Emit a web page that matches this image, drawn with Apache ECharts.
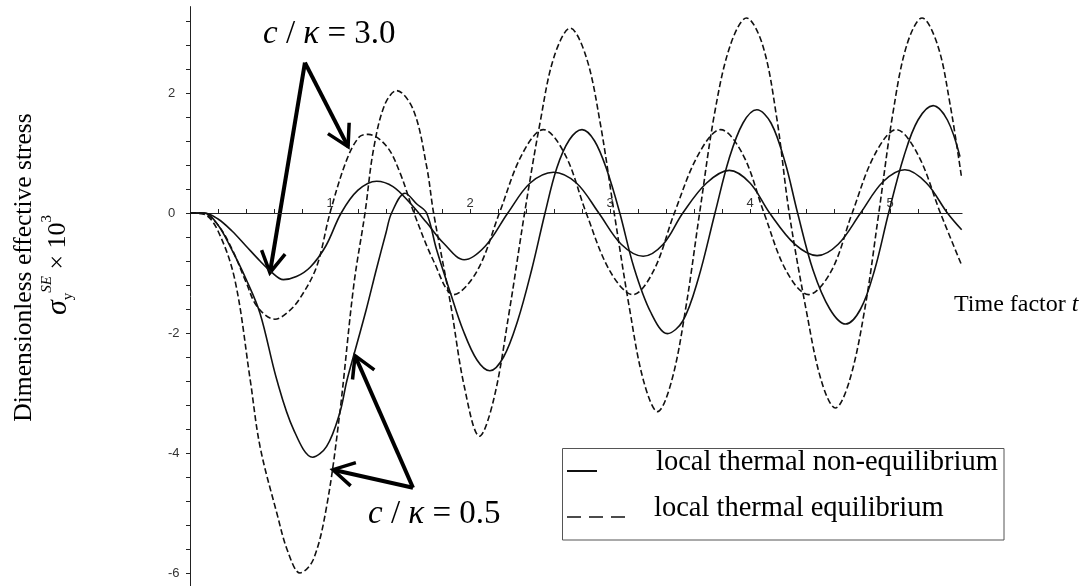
<!DOCTYPE html>
<html>
<head>
<meta charset="utf-8">
<title>Dimensionless effective stress vs time factor</title>
<script src="https://cdn.jsdelivr.net/npm/echarts@6/dist/echarts.min.js"></script>
<style>
  html, body { margin: 0; padding: 0; background: #fff; }
  #chart { width: 1086px; height: 586px; }
</style>
</head>
<body>
<div id="chart"></div>
<script>
// [time factor t, stress x 10^3]
const nonEqK30 = [
  [0, 0], [0.1, 0], [0.2, -0.1], [0.3, -0.3], [0.4, -0.55], [0.5, -0.8], [0.58, -0.98],
  [0.667, -1.11], [0.76, -1.06], [0.86, -0.9], [0.97, -0.55], [1.08, 0], [1.2, 0.38],
  [1.333, 0.53], [1.45, 0.44], [1.57, 0.17], [1.69, -0.16], [1.81, -0.5], [1.958, -0.78],
  [2.11, -0.55], [2.27, 0], [2.43, 0.5], [2.597, 0.68], [2.76, 0.5], [2.92, 0], [3.08, -0.52],
  [3.237, -0.72], [3.38, -0.52], [3.52, 0], [3.69, 0.5], [3.852, 0.71], [4.0, 0.5], [4.14, 0],
  [4.32, -0.52], [4.479, -0.71], [4.63, -0.52], [4.79, 0], [4.95, 0.52], [5.106, 0.72],
  [5.26, 0.5], [5.41, 0], [5.512, -0.28]
];
const eqK30 = [
  [0, 0], [0.1, -0.01], [0.2, -0.2], [0.3, -0.6], [0.4, -1.15], [0.48, -1.56], [0.607, -1.77],
  [0.7, -1.65], [0.786, -1.42], [0.905, -0.89], [1.0, 0], [1.12, 0.89], [1.21, 1.27],
  [1.274, 1.31], [1.405, 1.11], [1.5, 0.67], [1.6, 0], [1.74, -0.8], [1.884, -1.36],
  [2.05, -0.97], [2.21, 0], [2.37, 0.97], [2.524, 1.39], [2.68, 0.97], [2.83, 0], [3.0, -0.97],
  [3.163, -1.36], [3.31, -0.97], [3.46, 0], [3.63, 0.97], [3.79, 1.39], [3.95, 0.97], [4.1, 0],
  [4.26, -0.97], [4.418, -1.36], [4.58, -0.97], [4.73, 0], [4.89, 0.97], [5.045, 1.39],
  [5.2, 0.97], [5.36, 0], [5.51, -0.86]
];
const nonEqK05 = [
  [0, 0], [0.1, 0], [0.2, -0.2], [0.3, -0.62], [0.4, -1.1], [0.5, -1.67], [0.62, -2.78],
  [0.74, -3.61], [0.876, -4.07], [0.976, -3.89], [1.07, -3.33], [1.12, -2.8], [1.19, -2.2],
  [1.26, -1.6], [1.33, -0.95], [1.4, -0.33], [1.44, 0], [1.536, 0.33], [1.62, 0.15], [1.69, 0],
  [1.76, -0.6], [1.86, -1.33], [1.95, -1.95], [2.05, -2.45], [2.142, -2.63], [2.24, -2.4],
  [2.34, -1.8], [2.44, -0.95], [2.536, 0], [2.62, 0.75], [2.71, 1.22], [2.8, 1.39], [2.89, 1.2],
  [2.98, 0.7], [3.07, 0], [3.17, -0.9], [3.29, -1.65], [3.41, -2.01], [3.52, -1.8], [3.63, -1.1],
  [3.75, 0], [3.85, 0.9], [3.95, 1.5], [4.049, 1.72], [4.15, 1.5], [4.25, 0.85], [4.34, 0],
  [4.45, -0.95], [4.57, -1.6], [4.683, -1.85], [4.79, -1.6], [4.89, -0.95], [4.99, 0],
  [5.1, 0.95], [5.2, 1.55], [5.308, 1.79], [5.41, 1.55], [5.5, 0.94]
];
const eqK05 = [
  [0, 0], [0.1, -0.02], [0.2, -0.3], [0.32, -1.11], [0.43, -2.78], [0.5, -3.89], [0.62, -5.0],
  [0.7, -5.65], [0.786, -6.0], [0.88, -5.78], [0.976, -4.89], [1.07, -3.33], [1.17, -1.2],
  [1.25, 0], [1.31, 1.05], [1.39, 1.8], [1.476, 2.04], [1.595, 1.72], [1.69, 0.78], [1.74, 0],
  [1.86, -1.5], [1.96, -2.9], [2.068, -3.72], [2.17, -3.1], [2.28, -1.65], [2.39, 0], [2.5, 1.5],
  [2.6, 2.6], [2.716, 3.08], [2.83, 2.6], [2.93, 1.5], [3.03, 0], [3.14, -1.6], [3.24, -2.8],
  [3.34, -3.31], [3.44, -2.8], [3.54, -1.6], [3.64, 0], [3.75, 1.7], [3.86, 2.8], [3.975, 3.25],
  [4.09, 2.8], [4.19, 1.6], [4.28, 0], [4.4, -1.6], [4.51, -2.8], [4.61, -3.25], [4.71, -2.8],
  [4.82, -1.6], [4.92, 0], [5.02, 1.65], [5.12, 2.8], [5.229, 3.25], [5.34, 2.8], [5.43, 1.8],
  [5.51, 0.61]
];

const xTickLabels = [1, 2, 3, 4, 5];
const yTickLabels = [-6, -4, -2, 0, 2];
// minor ticks: every 0.2 on t, every 0.4 on stress
const xTicks = [];
for (let i = 1; i <= 27; i++) xTicks.push(+(i * 0.2).toFixed(1));
const yTicks = [];
for (let i = 0; i <= 23; i++) yTicks.push(+(-6 + i * 0.4).toFixed(1));

const NON_EQ = 'local thermal non-equilibrium';
const EQ = 'local thermal equilibrium';
const SERIF = 'Liberation Serif';

function curve(name, data, dashed) {
  return {
    name: name,
    type: 'line',
    data: data,
    smooth: 0.35,
    symbol: 'none',
    silent: true,
    lineStyle: { color: '#111', width: 1.6, type: dashed ? [6, 3] : 'solid' }
  };
}

const chart = echarts.init(document.getElementById('chart'));
chart.setOption({
  animation: false,
  backgroundColor: '#fff',
  grid: { left: 190, top: 6.6, width: 772.1, height: 581.4, outerBoundsMode: 'none' },
  xAxis: {
    type: 'value', min: 0, max: 5.515,
    axisLine: { onZero: true, lineStyle: { color: '#222', width: 1 } },
    axisTick: { show: true, inside: true, length: 4, customValues: xTicks, lineStyle: { color: '#222' } },
    // labels sit on the zero line, drawn below as graphic text
    axisLabel: { show: false },
    splitLine: { show: false }
  },
  yAxis: {
    type: 'value', min: -6.25, max: 3.44,
    axisLine: { show: true, onZero: true, lineStyle: { color: '#222', width: 1 } },
    axisTick: { show: true, length: 4, customValues: yTicks, lineStyle: { color: '#222' } },
    axisLabel: {
      margin: 22, align: 'left', customValues: yTickLabels,
      color: '#333', fontFamily: 'Liberation Sans', fontSize: 13
    },
    splitLine: { show: false }
  },
  series: [
    curve(NON_EQ, nonEqK30, false),
    curve(EQ, eqK30, true),
    curve(NON_EQ, nonEqK05, false),
    curve(EQ, eqK05, true)
  ]
});

// arrows: [apex, tip] in data coordinates
const arrows = [
  [[0.821, 2.505], [0.571, -0.995]],
  [[0.821, 2.505], [1.129, 1.105]],
  [[1.593, -4.578], [1.179, -2.378]],
  [[1.593, -4.578], [1.021, -4.278]]
];

function arrowShapes(from, to) {
  const p0 = chart.convertToPixel({ gridIndex: 0 }, from);
  const p1 = chart.convertToPixel({ gridIndex: 0 }, to);
  const ang = Math.atan2(p0[1] - p1[1], p0[0] - p1[0]);
  const len = 24, spread = 0.52;
  const b1 = [p1[0] + len * Math.cos(ang + spread), p1[1] + len * Math.sin(ang + spread)];
  const b2 = [p1[0] + len * Math.cos(ang - spread), p1[1] + len * Math.sin(ang - spread)];
  return [
    { type: 'polyline', silent: true, shape: { points: [p0, p1] },
      style: { stroke: '#000', lineWidth: 4, fill: null } },
    { type: 'polyline', silent: true, shape: { points: [b1, p1, b2] },
      style: { stroke: '#000', lineWidth: 3.5, fill: null, lineJoin: 'miter' } }
  ];
}

const kappaRich = {
  i: { fontFamily: SERIF, fontSize: 33, fontStyle: 'italic', fill: '#000' },
  n: { fontFamily: SERIF, fontSize: 33, fill: '#000' }
};

const graphics = [];
arrows.forEach(a => graphics.push(...arrowShapes(a[0], a[1])));

// x tick labels just above the t axis
xTickLabels.forEach(v => {
  const p = chart.convertToPixel({ gridIndex: 0 }, [v, 0]);
  graphics.push({
    type: 'text', x: p[0], y: p[1] - 10, silent: true,
    style: {
      text: String(v), fontFamily: 'Liberation Sans', fontSize: 13, fill: '#333',
      align: 'center', verticalAlign: 'middle'
    }
  });
});

graphics.push(
  { type: 'text', x: 263, y: 34, silent: true,
    style: { text: '{i|c}{n| / }{i|κ}{n| = 3.0}', rich: kappaRich, verticalAlign: 'middle' } },
  { type: 'text', x: 368, y: 514, silent: true,
    style: { text: '{i|c}{n| / }{i|κ}{n| = 0.5}', rich: kappaRich, verticalAlign: 'middle' } },
  { type: 'text', x: 954, y: 305, silent: true,
    style: {
      text: '{n|Time factor }{i|t}', verticalAlign: 'middle',
      rich: {
        n: { fontFamily: SERIF, fontSize: 24, fill: '#000' },
        i: { fontFamily: SERIF, fontSize: 24, fontStyle: 'italic', fill: '#000' }
      }
    } },
  // y axis title, two rotated lines
  { type: 'text', x: 24.6, y: 267.5, rotation: Math.PI / 2, silent: true,
    style: {
      text: 'Dimensionless effective stress', fontFamily: SERIF, fontSize: 25.5,
      fill: '#000', align: 'center', verticalAlign: 'middle'
    } },
  { type: 'text', x: 58, y: 265, rotation: Math.PI / 2, silent: true,
    style: {
      text: '{g|σ}{sub|y}{sup|SE}{n| × 10}{sup3|3}', align: 'center', verticalAlign: 'middle',
      rich: {
        g: { fontFamily: SERIF, fontSize: 30, fontStyle: 'italic', lineHeight: 36, fill: '#000' },
        sub: { fontFamily: SERIF, fontSize: 15, lineHeight: 15, verticalAlign: 'bottom', fill: '#000' },
        sup: { fontFamily: SERIF, fontSize: 15, fontStyle: 'italic', lineHeight: 15, verticalAlign: 'top', fill: '#000' },
        n: { fontFamily: SERIF, fontSize: 26, lineHeight: 36, fill: '#000' },
        sup3: { fontFamily: SERIF, fontSize: 15, lineHeight: 15, verticalAlign: 'top', fill: '#000' }
      }
    } },
  // legend box
  { type: 'rect', silent: true, shape: { x: 562.5, y: 448.5, width: 441.5, height: 91.5 },
    style: { fill: '#fff', stroke: '#555', lineWidth: 1 } },
  { type: 'line', silent: true, shape: { x1: 567, y1: 471, x2: 597, y2: 471 },
    style: { stroke: '#111', lineWidth: 2 } },
  { type: 'line', silent: true, shape: { x1: 567, y1: 517, x2: 625, y2: 517 },
    style: { stroke: '#111', lineWidth: 1.5, lineDash: [14, 8] } },
  { type: 'text', x: 656, y: 462.5, silent: true,
    style: { text: NON_EQ, fontFamily: SERIF, fontSize: 28.5, fill: '#000', verticalAlign: 'middle' } },
  { type: 'text', x: 654, y: 508.5, silent: true,
    style: { text: EQ, fontFamily: SERIF, fontSize: 28.5, fill: '#000', verticalAlign: 'middle' } }
);

chart.setOption({ graphic: graphics });
</script>
</body>
</html>
